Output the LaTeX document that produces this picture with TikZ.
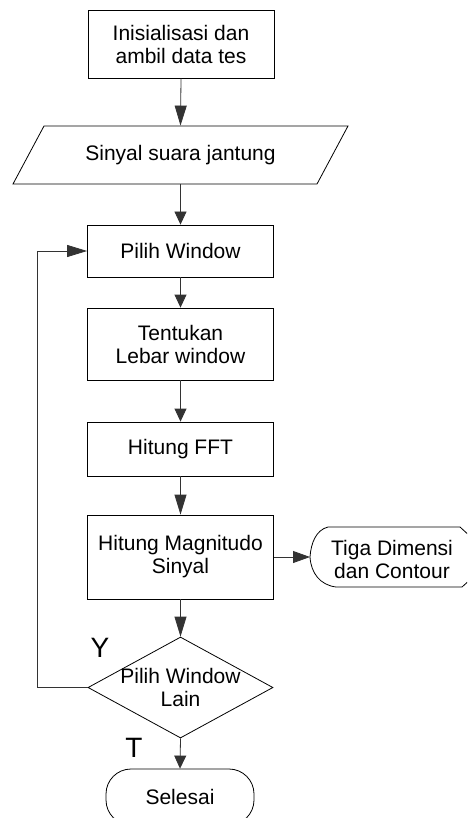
\documentclass[tikz,border=0pt]{standalone}
\usepackage{fontspec}
\setmainfont{Liberation Sans}
\usetikzlibrary{shapes.geometric,arrows.meta}
\begin{document}
\begin{tikzpicture}[x=1pt,y=-1pt,
  line width=0.8pt,
  every node/.style={font=\fontsize{21}{23}\selectfont, align=center, inner sep=0pt},
  procbox/.style={draw, minimum width=186pt},
  bigtip/.style={-{Triangle[length=20pt,width=12pt]}},
  smalltip/.style={-{Triangle[length=13pt,width=12pt]}},
  sidetip/.style={-{Triangle[length=17pt,width=12pt]}},
  flowline/.style={draw=black!80},
  answer/.style={font=\fontsize{28}{30}\selectfont},
]
\useasboundingbox (0,0) rectangle (467,818);
\clip (0,0) rectangle (467,818);

% process steps
\node[procbox, minimum height=68pt] (init) at (181,44) {Inisialisasi dan\\ambil data tes};

% input / output: parallelogram drawn around a text node
\node[minimum width=304pt, minimum height=58pt] (para) at (180.5,155) {Sinyal suara jantung};
\draw (44,126) -- (348,126) -- (317,184) -- (13,184) -- cycle;

\node[procbox, minimum height=52pt] (pw)  at (180.5,251) {Pilih Window};
\node[procbox, minimum height=72pt] (lw)  at (180.5,344) {Tentukan\\Lebar window};
\node[procbox, minimum height=54pt] (fft) at (180.5,449) {Hitung FFT};
\node[procbox, minimum height=84pt] (mag) at (180.5,557) {Hitung Magnitudo\\Sinyal};

% display symbol
\coordinate (dispL) at (310,557);
\node (disp) at (392,559) {Tiga Dimensi\\dan Contour};
\draw (dispL) .. controls (311,543) and (316,530) .. (328,527) -- (460,527)
      -- (472,538) -- (472,578) -- (462,587) -- (336,587)
      .. controls (320,585) and (311,573) .. (dispL);

% decision
\node[diamond, draw, minimum width=185pt, minimum height=101pt] (dec) at (180.5,687.5) {};
\node at (dec) {Pilih Window\\Lain};

% terminator
\node[draw, rounded corners=25pt, minimum width=148pt, minimum height=56pt] (end) at (180,797) {Selesai};

% connectors
\draw[flowline, bigtip]   (init.south) -- (para.north);
\draw[flowline, smalltip] (para.south) -- (pw.north);
\draw[flowline, smalltip] (pw.south) -- (lw.north);
\draw[flowline, smalltip] (lw.south) -- (fft.north);
\draw[flowline, bigtip]   (fft.south) -- (mag.north);
\draw[flowline, bigtip]   (mag.south) -- (dec.north);
\draw[flowline, sidetip]  (mag.east) -- (dispL);
\draw[flowline, smalltip] (dec.south) -- (end.north);
\draw[flowline, bigtip]   (dec.west) -- ++(-50,0) |- (pw.west);

% branch labels
\node[answer] (yes) at (100,648) {Y};
\node[answer] (no)  at (134,748) {T};
\end{tikzpicture}
\end{document}
